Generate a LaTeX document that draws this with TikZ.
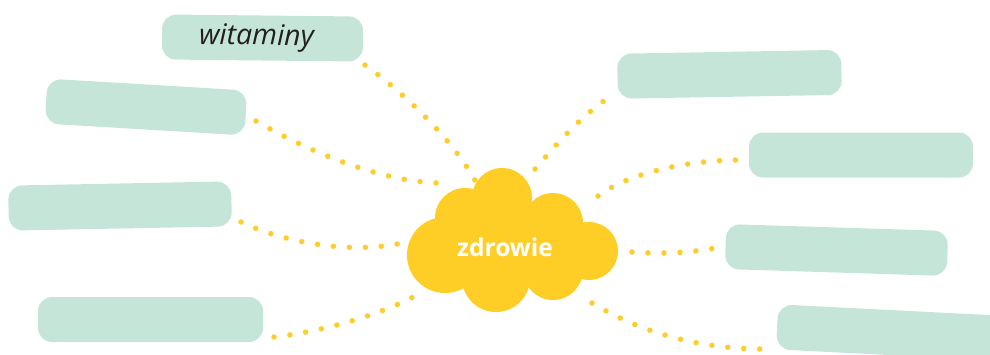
\documentclass[tikz,border=0pt]{standalone}
\usepackage{fontspec}
\newfontfamily\osans{Open Sans}
\definecolor{boxgreen}{HTML}{C5E5D9}
\definecolor{cloudyellow}{HTML}{FFCE26}
\definecolor{dotyellow}{HTML}{FFCC29}
\definecolor{textgray}{HTML}{231F20}
\begin{document}
\begin{tikzpicture}[x=1pt,y=-1pt,
  greenbox/.style={fill=boxgreen, rounded corners=14pt, minimum height=45pt, inner sep=0pt},
  dotline/.style={draw=dotyellow, line width=5.5pt, line cap=round, dash pattern=on 0pt off 16pt},
  puff/.style={fill=cloudyellow}]
\useasboundingbox (0,0) rectangle (990,354);
\begin{scope}
\clip (0,0) rectangle (990,354);
% connector end points
\coordinate (a1) at (365,65);  \coordinate (a2) at (478,186);
\coordinate (b1) at (256,121); \coordinate (b2) at (443,183);
\coordinate (c1) at (241,222); \coordinate (c2) at (410,241);
\coordinate (d1) at (274,337); \coordinate (d2) at (415,296);
\coordinate (e1) at (535,169); \coordinate (e2) at (613,95);
\coordinate (f1) at (598,196); \coordinate (f2) at (740,160);
\coordinate (g1) at (632,252); \coordinate (g2) at (715,248);
\coordinate (h1) at (592,303); \coordinate (h2) at (770,349);
% dotted connectors
\draw[dotline] (a1) .. controls (400,90) and (455,140) .. (a2);
\draw[dotline] (b1) .. controls (320,158) and (390,183) .. (b2);
\draw[dotline] (c1) .. controls (290,245) and (360,255) .. (c2);
\draw[dotline] (d1) .. controls (320,332) and (380,315) .. (d2);
\draw[dotline] (e1) .. controls (560,140) and (585,112) .. (e2);
\draw[dotline] (f1) .. controls (630,172) and (690,160) .. (f2);
\draw[dotline] (g1) .. controls (660,254) and (690,253) .. (g2);
\draw[dotline] (h1) .. controls (640,332) and (700,350) .. (h2);
% boxes
\node[greenbox, minimum width=201pt, rotate=-0.6] (box1) at (262.5,38)
  {\osans\itshape\fontsize{28.5}{28.5}\selectfont\color{textgray}\hspace*{-12pt}witaminy};
\node[greenbox, minimum width=200pt, rotate=-3.4] (box2) at (146,107) {};
\node[greenbox, minimum width=223pt, rotate=1.1] (box3) at (120,206) {};
\node[greenbox, minimum width=225pt] (box4) at (150.5,319.5) {};
\node[greenbox, minimum width=224pt, rotate=1] (box5) at (729.5,74.3) {};
\node[greenbox, minimum width=224pt] (box6) at (861,155) {};
\node[greenbox, minimum width=222pt, rotate=-1.8] (box7) at (836.5,250) {};
\node[greenbox, minimum width=224pt, rotate=-2.9] (box8) at (889,332.5) {};
% cloud
\fill[puff] (445,255) circle (38);
\fill[puff] (465,218) circle (30);
\fill[puff] (502,198) circle (30);
\fill[puff] (553,223) circle (30);
\fill[puff] (589,251) circle (29);
\fill[puff] (553,270) circle (30);
\fill[puff] (496,278) circle (34);
\fill[puff] (512,245) ellipse (70 and 40);
\node[text=white] (cloud) at (505,247) {\osans\bfseries\fontsize{24.5}{24.5}\selectfont zdrowie};
\end{scope}
\end{tikzpicture}
\end{document}
